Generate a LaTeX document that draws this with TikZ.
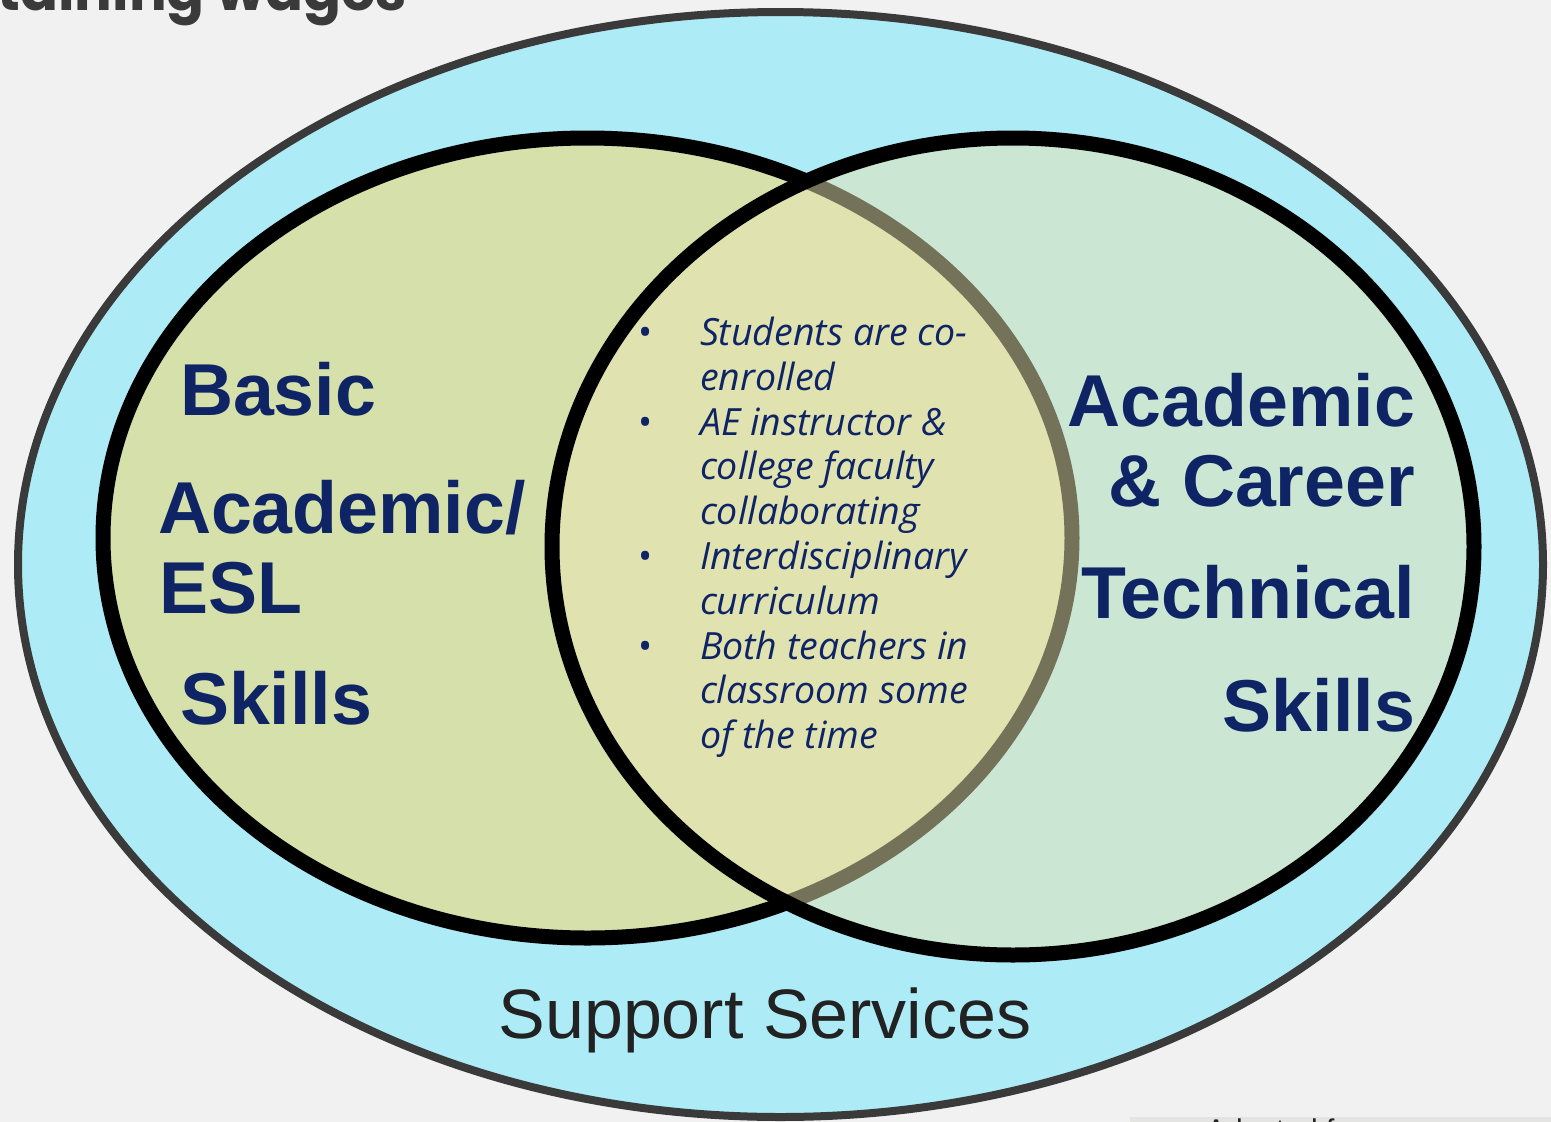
\documentclass[tikz,border=0pt]{standalone}
\usepackage{fontspec}
\setmainfont{Liberation Sans}
\newfontfamily\itemfont{Open Sans}
\newfontfamily\headfont{Poppins}
\definecolor{paper}{HTML}{F1F1F1}
\definecolor{sky}{HTML}{ADEBF6}
\definecolor{rim}{HTML}{3A3A3A}
\definecolor{basicfill}{HTML}{D6E0AA}
\definecolor{careerfill}{HTML}{EAE5B4}
\definecolor{navy}{HTML}{0E2465}
\definecolor{ink}{HTML}{222222}
\definecolor{strip}{HTML}{E4E4E2}
\newcommand{\blt}{\makebox[62pt][l]{\upshape\textbullet}}
\newcommand{\ind}{\hspace*{62pt}}
\begin{document}
\begin{tikzpicture}[x=1pt,y=-1pt]
        \tikzstyle{every node}=[inner sep=0pt, outer sep=0pt]
        \tikzstyle{skill}=[font=\fontsize{73.5}{80}\selectfont\bfseries, text=navy]
        \useasboundingbox (0,0) rectangle (1551,1122);
        \fill[paper] (0,0) rectangle (1551,1122);

        \node[anchor=base east, font=\headfont\bfseries\fontsize{56}{56}\selectfont, text=rim] (title) at (407,10) {taining wages};

        \draw[line width=8pt, draw=rim, fill=sky] (780.5,564.5) ellipse [x radius=762.5pt, y radius=552.5pt];
        \draw[line width=15pt, fill=basicfill] (587.5,538) ellipse [x radius=484.5pt, y radius=400pt];
        \draw[line width=15pt, fill=careerfill, fill opacity=0.5] (1013,546.5) ellipse [x radius=461pt, y radius=408.5pt];

        \node[skill, anchor=base west] (basic) at (180,415) {Basic};
        \node[skill, anchor=base west] (acad) at (158,533) {Academic/};
        \node[skill, anchor=base west] (esl) at (159,613) {ESL};
        \node[skill, anchor=base west] (skillsl) at (180,724) {Skills};

        \node[skill, anchor=base east] (acadr) at (1415,426) {Academic};
        \node[skill, anchor=base east] (career) at (1415,506) {\& Career};
        \node[skill, anchor=base east] (tech) at (1415,618) {Technical};
        \node[skill, anchor=base east] (skillsr) at (1415,731) {Skills};

        \node[anchor=north west, align=left, text=navy, font=\itemfont\itshape\fontsize{37.5}{44.8}\selectfont] (both) at (638,317) {%
          \blt Students are co-\\ \ind enrolled\\
          \blt AE instructor \&\\ \ind college faculty\\ \ind collaborating\\
          \blt Interdisciplinary\\ \ind curriculum\\
          \blt Both teachers in\\ \ind classroom some\\ \ind of the time};

        \node[anchor=base, font=\fontsize{70}{80}\selectfont, text=ink] (support) at (765,1038) {Support Services};

        \fill[strip] (1130,1117) rectangle (1551,1122);
        \node[anchor=base west, font=\fontsize{30}{36}\selectfont, text=ink] (source) at (1206,1140) {Adapted from};
\end{tikzpicture}
\end{document}
